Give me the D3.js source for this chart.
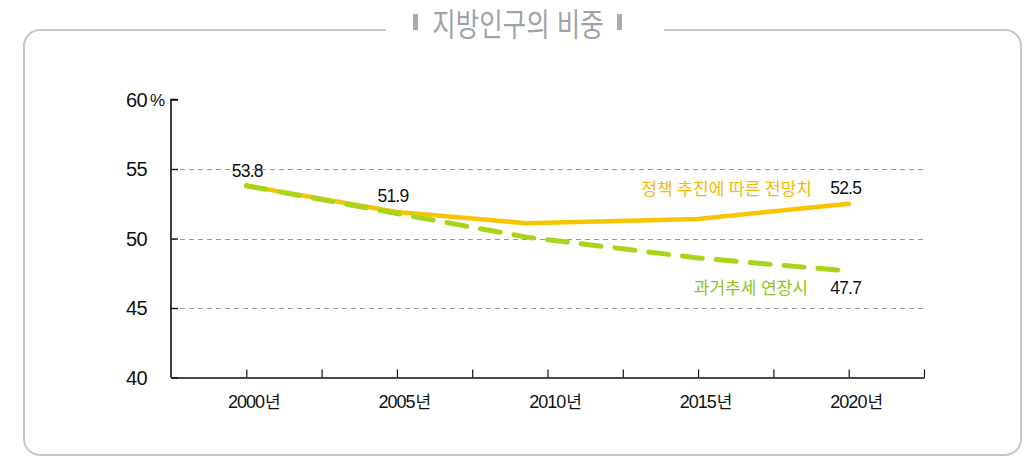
<!DOCTYPE html>
<html lang="ko">
<head>
<meta charset="utf-8">
<script src="https://cdn.jsdelivr.net/npm/d3@7"></script>
<style>
  html, body { margin: 0; padding: 0; background: #fff; }
  svg { display: block; }
  .num { font-family: "Liberation Sans", Arial, sans-serif; fill: #111; }
  .kr { font-family: "Noto Sans CJK KR", "Noto Sans", sans-serif; }
</style>
</head>
<body>
<svg id="chart" width="1026" height="458"></svg>
<script>
// Share of the population living outside the capital region (%)
const title = "지방인구의 비중";

// Policy-driven projection
const policyYears  = [2000, 2005, 2009.3, 2015, 2020];
const policyValues = [53.8, 51.9, 51.1, 51.4, 52.5];
const policyName   = "정책 추진에 따른 전망치";

// Past trend extended
const trendYears  = [2000, 2005, 2009.3, 2015, 2019.8];
const trendValues = [53.8, 51.8, 50.1, 48.6, 47.7];
const trendName   = "과거추세 연장시";

// Axes
const yTicks = [40, 45, 50, 55, 60];
const yGrid  = [45, 50, 55];
const xTickYears  = [2000, 2002.5, 2005, 2007.5, 2010, 2012.5, 2015, 2017.5, 2020, 2022.5];
const xLabelYears = [2000, 2005, 2010, 2015, 2020];

const svg = d3.select("#chart");

const x = d3.scaleLinear().domain([1997.5, 2022.5]).range([171, 924]);
const y = d3.scaleLinear().domain([40, 60]).range([377.5, 99.5]);

// ---- outer frame with the title set into the top edge ----
const frameColor = "#c4c8cc";
const L = 24, R = 1021, T = 30, B = 455, r = 16;
const gapL = 386, gapR = 664;
const framePath = d3.path();
framePath.moveTo(gapL, T);
framePath.lineTo(L + r, T);
framePath.arcTo(L, T, L, T + r, r);
framePath.lineTo(L, B - r);
framePath.arcTo(L, B, L + r, B, r);
framePath.lineTo(R - r, B);
framePath.arcTo(R, B, R, B - r, r);
framePath.lineTo(R, T + r);
framePath.arcTo(R, T, R - r, T, r);
framePath.lineTo(gapR, T);
svg.append("path")
  .attr("d", framePath.toString())
  .attr("fill", "none")
  .attr("stroke", frameColor)
  .attr("stroke-width", 2);

const titleG = svg.append("g").attr("transform", "translate(518,22)");
titleG.append("text")
  .attr("class", "kr")
  .attr("text-anchor", "middle")
  .attr("dominant-baseline", "central")
  .attr("transform", "scale(0.85,1.05)")
  .attr("font-size", 30)
  .attr("fill", "#9ea3a8")
  .text(title);
[-105, 99].forEach(dx => {
  titleG.append("rect")
    .attr("x", dx).attr("y", -8)
    .attr("width", 5).attr("height", 16)
    .attr("fill", "#a6abb0");
});

// ---- grid ----
svg.append("g")
  .selectAll("line")
  .data(yGrid)
  .join("line")
  .attr("x1", x.range()[0]).attr("x2", x.range()[1] - 1)
  .attr("y1", d => Math.round(y(d)) + 0.5).attr("y2", d => Math.round(y(d)) + 0.5)
  .attr("stroke", "#9a9a9a")
  .attr("stroke-width", 1)
  .attr("stroke-dasharray", "5,4");

// ---- y axis ----
const yAxis = d3.axisRight(y)
  .tickValues(yTicks)
  .tickSize(7)
  .tickFormat(() => "");
const yG = svg.append("g").attr("transform", `translate(${x.range()[0]},0)`).call(yAxis);
yG.select(".domain").attr("d", `M7,${y(60)}H0V${y(40)}`).attr("stroke", "#111").attr("stroke-width", 1.6);
yG.selectAll(".tick line").attr("stroke", "#111").attr("stroke-width", 1.4);

svg.append("g")
  .selectAll("text")
  .data(yTicks)
  .join("text")
  .attr("class", "num")
  .attr("x", 147)
  .attr("y", d => y(d))
  .attr("dy", "0.36em")
  .attr("text-anchor", "end")
  .attr("font-size", 20)
  .attr("letter-spacing", "-0.6")
  .text(d => d);
svg.append("text")
  .attr("class", "num")
  .attr("x", 150)
  .attr("y", y(60))
  .attr("dy", "0.36em")
  .attr("font-size", 17)
  .attr("letter-spacing", "-1.5")
  .text("%");

// ---- x axis ----
const xAxis = d3.axisBottom(x)
  .tickValues(xTickYears)
  .tickSizeInner(-8)
  .tickSizeOuter(0)
  .tickFormat(() => "");
const xG = svg.append("g").attr("transform", `translate(0,${y(40)})`).call(xAxis);
xG.select(".domain").attr("stroke", "#111").attr("stroke-width", 1.6);
xG.selectAll(".tick line").attr("stroke", "#111").attr("stroke-width", 1.2);

svg.append("g")
  .selectAll("text")
  .data(xLabelYears)
  .join("text")
  .attr("x", d => x(d) + 8)
  .attr("y", 408)
  .attr("text-anchor", "middle")
  .attr("font-size", 18)
  .attr("fill", "#111")
  .each(function (d) {
    const t = d3.select(this);
    t.append("tspan").attr("class", "num").attr("letter-spacing", "-1").text(d);
    t.append("tspan").attr("class", "kr").attr("font-size", 17).attr("dx", 1).text("년");
  });

// ---- lines ----
const line = d3.line().x(d => x(d[0])).y(d => y(d[1]));
const policyData = policyYears.map((yr, i) => [yr, policyValues[i]]);
const trendData  = trendYears.map((yr, i) => [yr, trendValues[i]]);

svg.append("path")
  .datum(policyData)
  .attr("d", line)
  .attr("fill", "none")
  .attr("stroke", "#f6c500")
  .attr("stroke-width", 4.5)
  .attr("stroke-linecap", "round")
  .attr("stroke-linejoin", "round");

svg.append("path")
  .datum(trendData)
  .attr("d", line)
  .attr("fill", "none")
  .attr("stroke", "#a8d41c")
  .attr("stroke-width", 5)
  .attr("stroke-linecap", "round")
  .attr("stroke-dasharray", "20,14");

// ---- value labels ----
const fmt = d3.format(".1f");
const valueLabels = [
  { d: policyData[0], dx: 1, dy: -9 },
  { d: policyData[1], dx: -4, dy: -10 },
  { d: policyData[4], dx: -3, dy: -10 },
  { d: trendData[4],  dx: 3, dy: 24 }
];
svg.append("g")
  .selectAll("text")
  .data(valueLabels)
  .join("text")
  .attr("class", "num")
  .attr("x", l => x(l.d[0]) + l.dx)
  .attr("y", l => y(l.d[1]) + l.dy)
  .attr("text-anchor", "middle")
  .attr("font-size", 17.5)
  .attr("letter-spacing", "-0.8")
  .text(l => fmt(l.d[1]));

// ---- series names ----
svg.append("text")
  .attr("class", "kr")
  .attr("x", 812)
  .attr("y", 195)
  .attr("text-anchor", "end")
  .attr("font-size", 17)
  .attr("fill", "#f2b900")
  .text(policyName);

svg.append("text")
  .attr("class", "kr")
  .attr("x", 808)
  .attr("y", 294)
  .attr("text-anchor", "end")
  .attr("font-size", 17)
  .attr("fill", "#8cc21e")
  .text(trendName);
</script>
</body>
</html>
